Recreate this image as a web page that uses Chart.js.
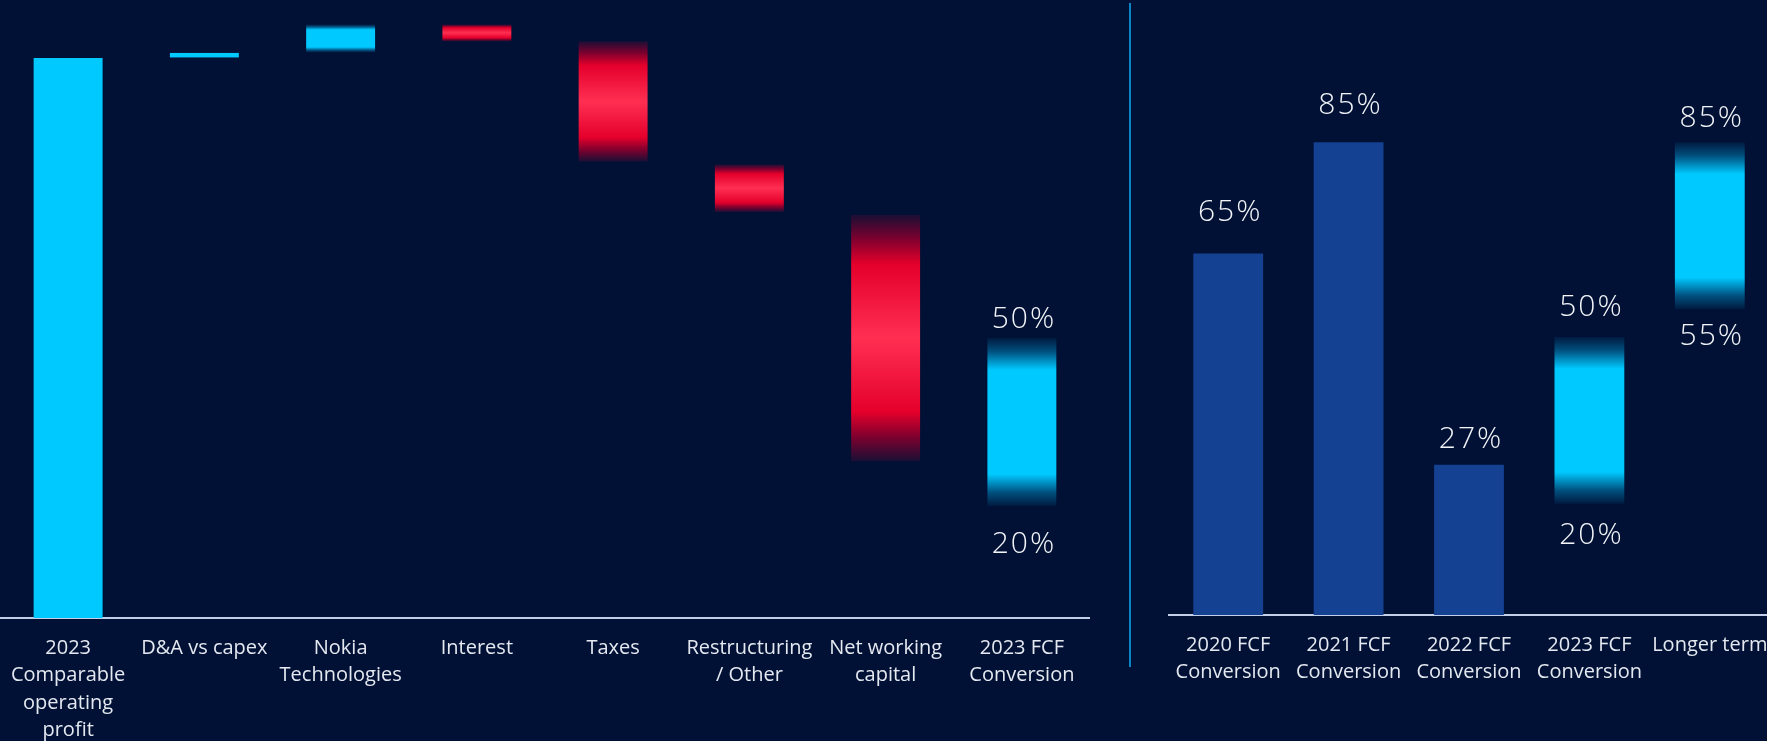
<!DOCTYPE html>
<html><head><meta charset="utf-8">
<script src="https://cdn.jsdelivr.net/npm/chart.js@4/dist/chart.umd.min.js"></script>
<style>
html,body{margin:0;padding:0;background:#001135;width:1767px;height:741px;overflow:hidden;}
#left{position:absolute;left:0;top:0;}
#right{position:absolute;left:1168px;top:0;}
#divider{position:absolute;left:1129px;top:3px;width:2px;height:664px;background:#0a86c6;}
</style></head><body>
<canvas id="left" width="1090" height="741"></canvas>
<div id="divider"></div>
<canvas id="right" width="602" height="741"></canvas>
<script>
// ---- Data: left waterfall (% of comparable operating profit) ----
const leftCategories = [["2023","Comparable","operating","profit"],["D&A vs capex"],["Nokia","Technologies"],["Interest"],["Taxes"],["Restructuring","/ Other"],["Net working","capital"],["2023 FCF","Conversion"]];
const leftLow  = [0, 100, 101, 103, 81.5, 72.5, 28, 20];
const leftHigh = [100, 101, 106, 106, 103, 81, 72, 50];
const leftTopLabels    = ["", "", "", "", "", "", "", "50%"];
const leftBottomLabels = ["", "", "", "", "", "", "", "20%"];

// ---- Data: right FCF conversion bars ----
const rightCategories = [["2020 FCF","Conversion"],["2021 FCF","Conversion"],["2022 FCF","Conversion"],["2023 FCF","Conversion"],["Longer term"]];
const rightLow  = [0, 0, 0, 20, 55];
const rightHigh = [65, 85, 27, 50, 85];
const rightTopLabels    = ["65%", "85%", "27%", "50%", "85%"];
const rightBottomLabels = ["", "", "", "20%", "55%"];

// ---- Styles and label offsets (kept apart from the data) ----
const leftStyles  = ['cyan','cyanFade','cyanFade','redFade','redFade','redFade','redFade','cyanFade'];
const rightStyles = ['navy','navy','navy','cyanFade','cyanFade'];
const leftTopGap  = [0,0,0,0,0,0,0,19];
const leftBotGap  = [0,0,0,0,0,0,0,38];
const rightTopGap = [41,37,25,30,24];
const rightBotGap = [0,0,0,32,27];

function makeFill(style, c, top, bottom){
  if (style === 'cyan') return '#00c9ff';
  if (style === 'navy') return '#144192';
  const g = c.createLinearGradient(0, top, 0, bottom);
  if (style === 'cyanFade') {
    g.addColorStop(0, '#001a40'); g.addColorStop(0.08, '#00507e'); g.addColorStop(0.19, '#00c9ff');
    g.addColorStop(0.81, '#00c9ff'); g.addColorStop(0.92, '#00507e'); g.addColorStop(1, '#001a40');
  } else {
    g.addColorStop(0, '#1a0f35'); g.addColorStop(0.1, '#80002e'); g.addColorStop(0.2, '#e4002b');
    g.addColorStop(0.5, '#ff2f52'); g.addColorStop(0.8, '#e4002b'); g.addColorStop(0.9, '#80002e'); g.addColorStop(1, '#1a0f35');
  }
  return g;
}

function labelPlugin(topL, botL, offTop, offBot){
  return { id: 'vals', afterDatasetsDraw(chart){
    const c = chart.ctx, meta = chart.getDatasetMeta(0);
    c.save();
    c.fillStyle = '#f2f4f8';
    c.font = '300 30px "Open Sans"';
    c.textAlign = 'center'; c.textBaseline = 'middle';
    try { c.letterSpacing = '2px'; } catch(e) {}
    meta.data.forEach((el, i) => {
      const yT = Math.min(el.y, el.base), yB = Math.max(el.y, el.base);
      if (topL[i]) c.fillText(topL[i], el.x + 2, yT - offTop[i]);
      if (botL[i]) c.fillText(botL[i], el.x + 2, yB + offBot[i]);
    });
    c.restore();
  }};
}

function makeChart(id, cats, low, high, styles, yMax, axisH, barPct, topL, botL, offTop, offBot){
  const data = low.map((l, i) => [l, high[i]]);
  return new Chart(document.getElementById(id), {
    type: 'bar',
    data: { labels: cats, datasets: [{
      data: data,
      borderWidth: 0,
      categoryPercentage: 1,
      barPercentage: barPct,
      backgroundColor: (ctx) => {
        if (ctx.type !== 'data') return '#00c9ff';
        const st = styles[ctx.dataIndex];
        const y = ctx.chart.scales.y;
        if (!y || !ctx.chart.chartArea) return st === 'navy' ? '#144192' : (st.startsWith('red') ? '#e4002b' : '#00c9ff');
        const top = y.getPixelForValue(high[ctx.dataIndex]);
        const bot = y.getPixelForValue(low[ctx.dataIndex]);
        return makeFill(st, ctx.chart.ctx, top, bot);
      }
    }]},
    options: {
      responsive: false, animation: false,
      layout: { padding: 0 },
      plugins: { legend: { display: false }, tooltip: { enabled: false } },
      scales: {
        y: { display: false, min: 0, max: yMax },
        x: {
          grid: { display: false, drawTicks: true, tickLength: 16 },
          border: { display: true, color: '#c3cfe8', width: 2 },
          ticks: { color: '#e4e8f0', font: { family: '"Open Sans"', size: 20, lineHeight: 1.38 }, padding: 0, maxRotation: 0, autoSkip: false },
          afterFit: (s) => { s.height = axisH; s.paddingLeft = 0; s.paddingRight = 0; }
        }
      }
    },
    plugins: [labelPlugin(topL, botL, offTop, offBot)]
  });
}

makeChart('left', leftCategories, leftLow, leftHigh, leftStyles, 110.36, 123, 0.506, leftTopLabels, leftBottomLabels, leftTopGap, leftBotGap);
makeChart('right', rightCategories, rightLow, rightHigh, rightStyles, 110.6, 126, 0.58, rightTopLabels, rightBottomLabels, rightTopGap, rightBotGap);
</script>
</body></html>
